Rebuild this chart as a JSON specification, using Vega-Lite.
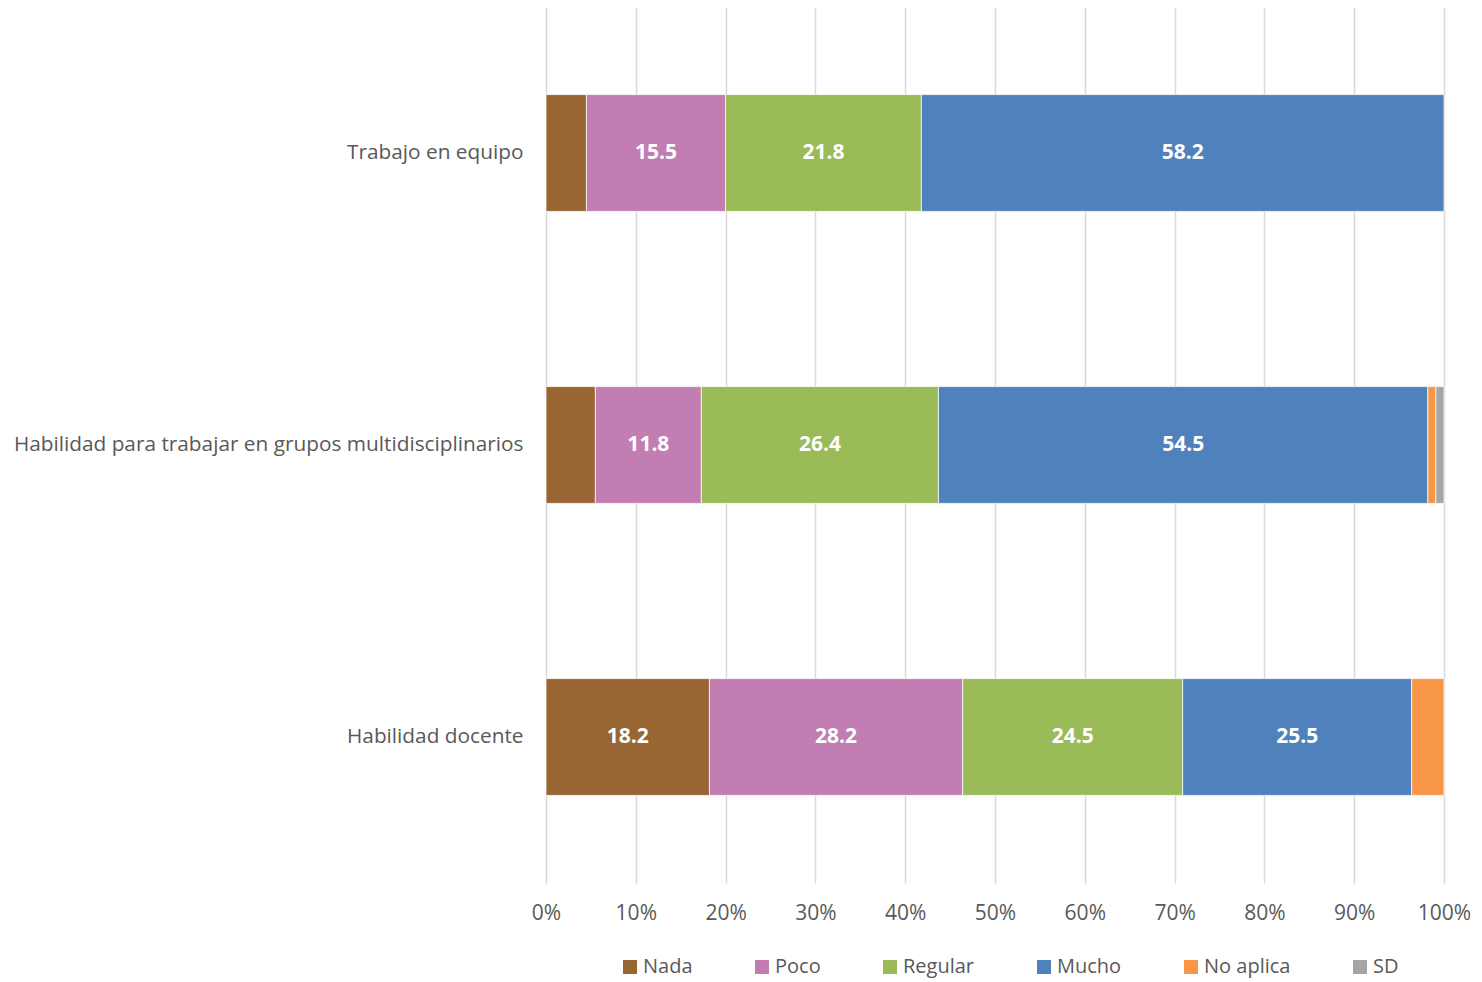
{
  "$schema": "https://vega.github.io/schema/vega-lite/v6.json",
  "autosize": {"type": "none"},
  "width": 898,
  "height": 876,
  "padding": {"left": 546, "top": 7, "right": 38, "bottom": 99},
  "background": "white",
  "config": {
    "view": {"stroke": null},
    "font": "Open Sans",
    "text": {"font": "Open Sans"}
  },
  "data": {
    "values": [
      {"cat": "Trabajo en equipo", "resp": "Nada", "value": 4.5},
      {"cat": "Trabajo en equipo", "resp": "Poco", "value": 15.5},
      {"cat": "Trabajo en equipo", "resp": "Regular", "value": 21.8},
      {"cat": "Trabajo en equipo", "resp": "Mucho", "value": 58.2},
      {"cat": "Habilidad para trabajar en grupos multidisciplinarios", "resp": "Nada", "value": 5.5},
      {"cat": "Habilidad para trabajar en grupos multidisciplinarios", "resp": "Poco", "value": 11.8},
      {"cat": "Habilidad para trabajar en grupos multidisciplinarios", "resp": "Regular", "value": 26.4},
      {"cat": "Habilidad para trabajar en grupos multidisciplinarios", "resp": "Mucho", "value": 54.5},
      {"cat": "Habilidad para trabajar en grupos multidisciplinarios", "resp": "No aplica", "value": 0.9},
      {"cat": "Habilidad para trabajar en grupos multidisciplinarios", "resp": "SD", "value": 0.9},
      {"cat": "Habilidad docente", "resp": "Nada", "value": 18.2},
      {"cat": "Habilidad docente", "resp": "Poco", "value": 28.2},
      {"cat": "Habilidad docente", "resp": "Regular", "value": 24.5},
      {"cat": "Habilidad docente", "resp": "Mucho", "value": 25.5},
      {"cat": "Habilidad docente", "resp": "No aplica", "value": 3.6}
    ]
  },
  "transform": [
    {"calculate": "indexof(['Nada','Poco','Regular','Mucho','No aplica','SD'], datum.resp)", "as": "k"},
    {"stack": "value", "groupby": ["cat"], "sort": [{"field": "k", "order": "ascending"}], "as": ["v0", "v1"]},
    {"calculate": "(datum.v0 + datum.v1) / 2", "as": "mid"}
  ],
  "encoding": {
    "y": {
      "field": "cat",
      "type": "nominal",
      "sort": ["Trabajo en equipo", "Habilidad para trabajar en grupos multidisciplinarios", "Habilidad docente"],
      "scale": {"paddingInner": 0.6, "paddingOuter": 0.3},
      "axis": {
        "title": null,
        "ticks": false,
        "domain": false,
        "labelFontSize": 20.8,
        "labelColor": "#595959",
        "labelPadding": 23,
        "labelLimit": 600
      }
    }
  },
  "layer": [
    {
      "mark": {"type": "bar", "stroke": "white", "strokeWidth": 0.75},
      "encoding": {
        "x": {
          "field": "v0",
          "type": "quantitative",
          "scale": {"domain": [0, 100], "nice": false},
          "axis": {
            "title": null,
            "values": [0, 10, 20, 30, 40, 50, 60, 70, 80, 90, 100],
            "labelExpr": "datum.value + '%'",
            "ticks": false,
            "domain": false,
            "grid": true,
            "gridColor": "#D9D9D9",
            "gridWidth": 1.5,
            "labelFontSize": 21,
            "labelColor": "#595959",
            "labelPadding": 19,
            "labelFlush": false
          }
        },
        "x2": {"field": "v1"},
        "color": {
          "field": "resp",
          "type": "nominal",
          "sort": ["Nada", "Poco", "Regular", "Mucho", "No aplica", "SD"],
          "scale": {
            "domain": ["Nada", "Poco", "Regular", "Mucho", "No aplica", "SD"],
            "range": ["#996633", "#C27EB2", "#9BBB59", "#4F81BD", "#F79646", "#A5A5A5"]
          },
          "legend": {
            "title": null,
            "orient": "none",
            "direction": "horizontal",
            "legendX": 74,
            "legendY": 950,
            "symbolType": "square",
            "symbolSize": 196,
            "symbolStrokeWidth": 0,
            "labelFontSize": 20,
            "labelColor": "#595959",
            "labelOffset": 3,
            "columnPadding": 59
          }
        }
      }
    },
    {
      "transform": [{"filter": "datum.value >= 10"}],
      "mark": {"type": "text", "color": "white", "fontWeight": "bold", "fontSize": 21, "align": "center", "baseline": "middle"},
      "encoding": {
        "x": {"field": "mid", "type": "quantitative"},
        "text": {"field": "value", "type": "quantitative", "format": ".1f"}
      }
    }
  ]
}
